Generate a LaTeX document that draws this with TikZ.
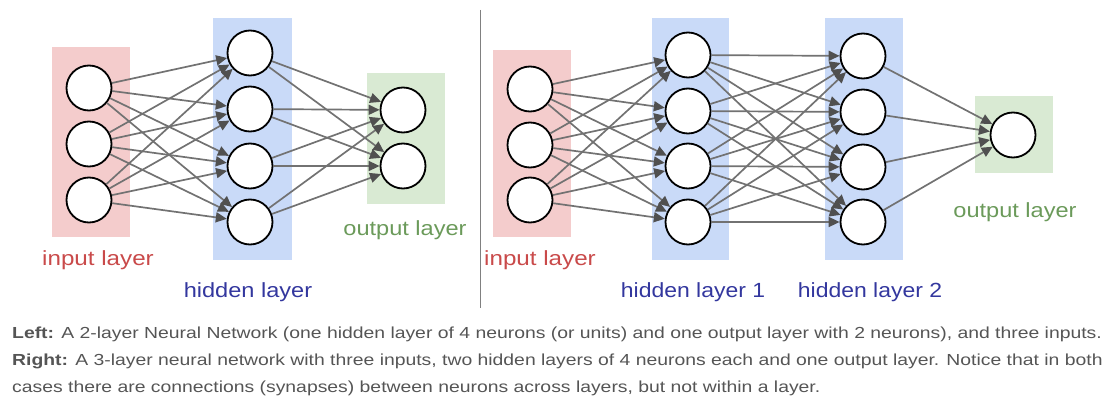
\documentclass[tikz,border=0pt]{standalone}
\usepackage{fontspec}
\setmainfont{Liberation Sans}
\usetikzlibrary{arrows.meta}
\definecolor{infill}{HTML}{F4CCCC}
\definecolor{hidfill}{HTML}{C9DAF8}
\definecolor{outfill}{HTML}{D9EAD3}
\definecolor{inlabel}{HTML}{C94A4A}
\definecolor{hidlabel}{HTML}{33379E}
\definecolor{outlabel}{HTML}{6B9A5A}
\definecolor{edgegray}{HTML}{727272}
\definecolor{tipgray}{HTML}{505050}
\definecolor{captext}{HTML}{555555}
\newcommand{\widetext}[2]{\scalebox{#1}[1]{#2}}
\begin{document}
\begin{tikzpicture}[x=1pt,y=-1pt,
  neuron/.style={circle,draw=black,line width=1.8pt,fill=white,minimum size=45pt,inner sep=0pt},
  synapse/.style={draw=edgegray,line width=1.7pt,-{Triangle[length=11pt,width=10pt,color=tipgray]}},
  layerlabel/.style={anchor=base,inner sep=0pt,font=\fontsize{20.5}{24}\selectfont},
  caption/.style={anchor=base west,inner sep=0pt,text=captext,font=\fontsize{16}{19}\selectfont}]
\useasboundingbox (0,0) rectangle (1111,401);

% layer backgrounds
\fill[infill]  (52,47) rectangle (130,237);
\fill[hidfill] (213,18) rectangle (292,260);
\fill[outfill] (367,73) rectangle (445,204);
\fill[infill]  (493,50) rectangle (571,237);
\fill[hidfill] (652,18) rectangle (729,260);
\fill[hidfill] (825,18) rectangle (903,260);
\fill[outfill] (975,96) rectangle (1053,173);

% left network: 3-4-2
\foreach \i/\y in {1/88,2/144,3/200} \node[neuron] (La\i) at (89,\y) {};
\foreach \i/\y in {1/53,2/109,3/166,4/222} \node[neuron] (Lh\i) at (250,\y) {};
\foreach \i/\y in {1/110,2/166} \node[neuron] (Lo\i) at (403,\y) {};
\foreach \i in {1,2,3} \foreach \j in {1,2,3,4} \draw[synapse] (La\i) -- (Lh\j);
\foreach \i in {1,2,3,4} \foreach \j in {1,2} \draw[synapse] (Lh\i) -- (Lo\j);

% right network: 3-4-4-1
\foreach \i/\y in {1/89,2/145,3/200} \node[neuron] (Ra\i) at (530,\y) {};
\foreach \i/\y in {1/55,2/111,3/166,4/222} \node[neuron] (Rh\i) at (688,\y) {};
\foreach \i/\y in {1/56,2/112,3/167,4/222} \node[neuron] (Rk\i) at (863,\y) {};
\node[neuron] (Ro) at (1013,135) {};
\foreach \i in {1,2,3} \foreach \j in {1,2,3,4} \draw[synapse] (Ra\i) -- (Rh\j);
\foreach \i in {1,2,3,4} \foreach \j in {1,2,3,4} \draw[synapse] (Rh\i) -- (Rk\j);
\foreach \i in {1,2,3,4} \draw[synapse] (Rk\i) -- (Ro);

% separator
\coordinate (sepTop) at (480,10);
\coordinate (sepBot) at (480,308);
\draw[line width=1pt,draw=gray] (sepTop) -- (sepBot);

% layer labels
\node[layerlabel,text=inlabel]  (LinL)  at (98,265)   {\widetext{1.18}{input layer}};
\node[layerlabel,text=hidlabel] (LhidL) at (248,297)  {\widetext{1.15}{hidden layer}};
\node[layerlabel,text=outlabel] (LoutL) at (405,235)  {\widetext{1.15}{output layer}};
\node[layerlabel,text=inlabel]  (RinL)  at (540,265)  {\widetext{1.18}{input layer}};
\node[layerlabel,text=hidlabel] (Rh1L)  at (693,297)  {\widetext{1.12}{hidden layer 1}};
\node[layerlabel,text=hidlabel] (Rh2L)  at (870,297)  {\widetext{1.12}{hidden layer 2}};
\node[layerlabel,text=outlabel] (RoutL) at (1015,217) {\widetext{1.15}{output layer}};

% caption
\node[caption] (cap1) at (12,338) {\widetext{1.21}{\textbf{Left:} A 2-layer Neural Network (one hidden layer of 4 neurons (or units) and one output layer with 2 neurons), and three inputs.}};
\node[caption] (cap2) at (12,365) {\widetext{1.21}{\textbf{Right:} A 3-layer neural network with three inputs, two hidden layers of 4 neurons each and one output layer. Notice that in both}};
\node[caption] (cap3) at (12,392) {\widetext{1.21}{cases there are connections (synapses) between neurons across layers, but not within a layer.}};
\end{tikzpicture}
\end{document}
